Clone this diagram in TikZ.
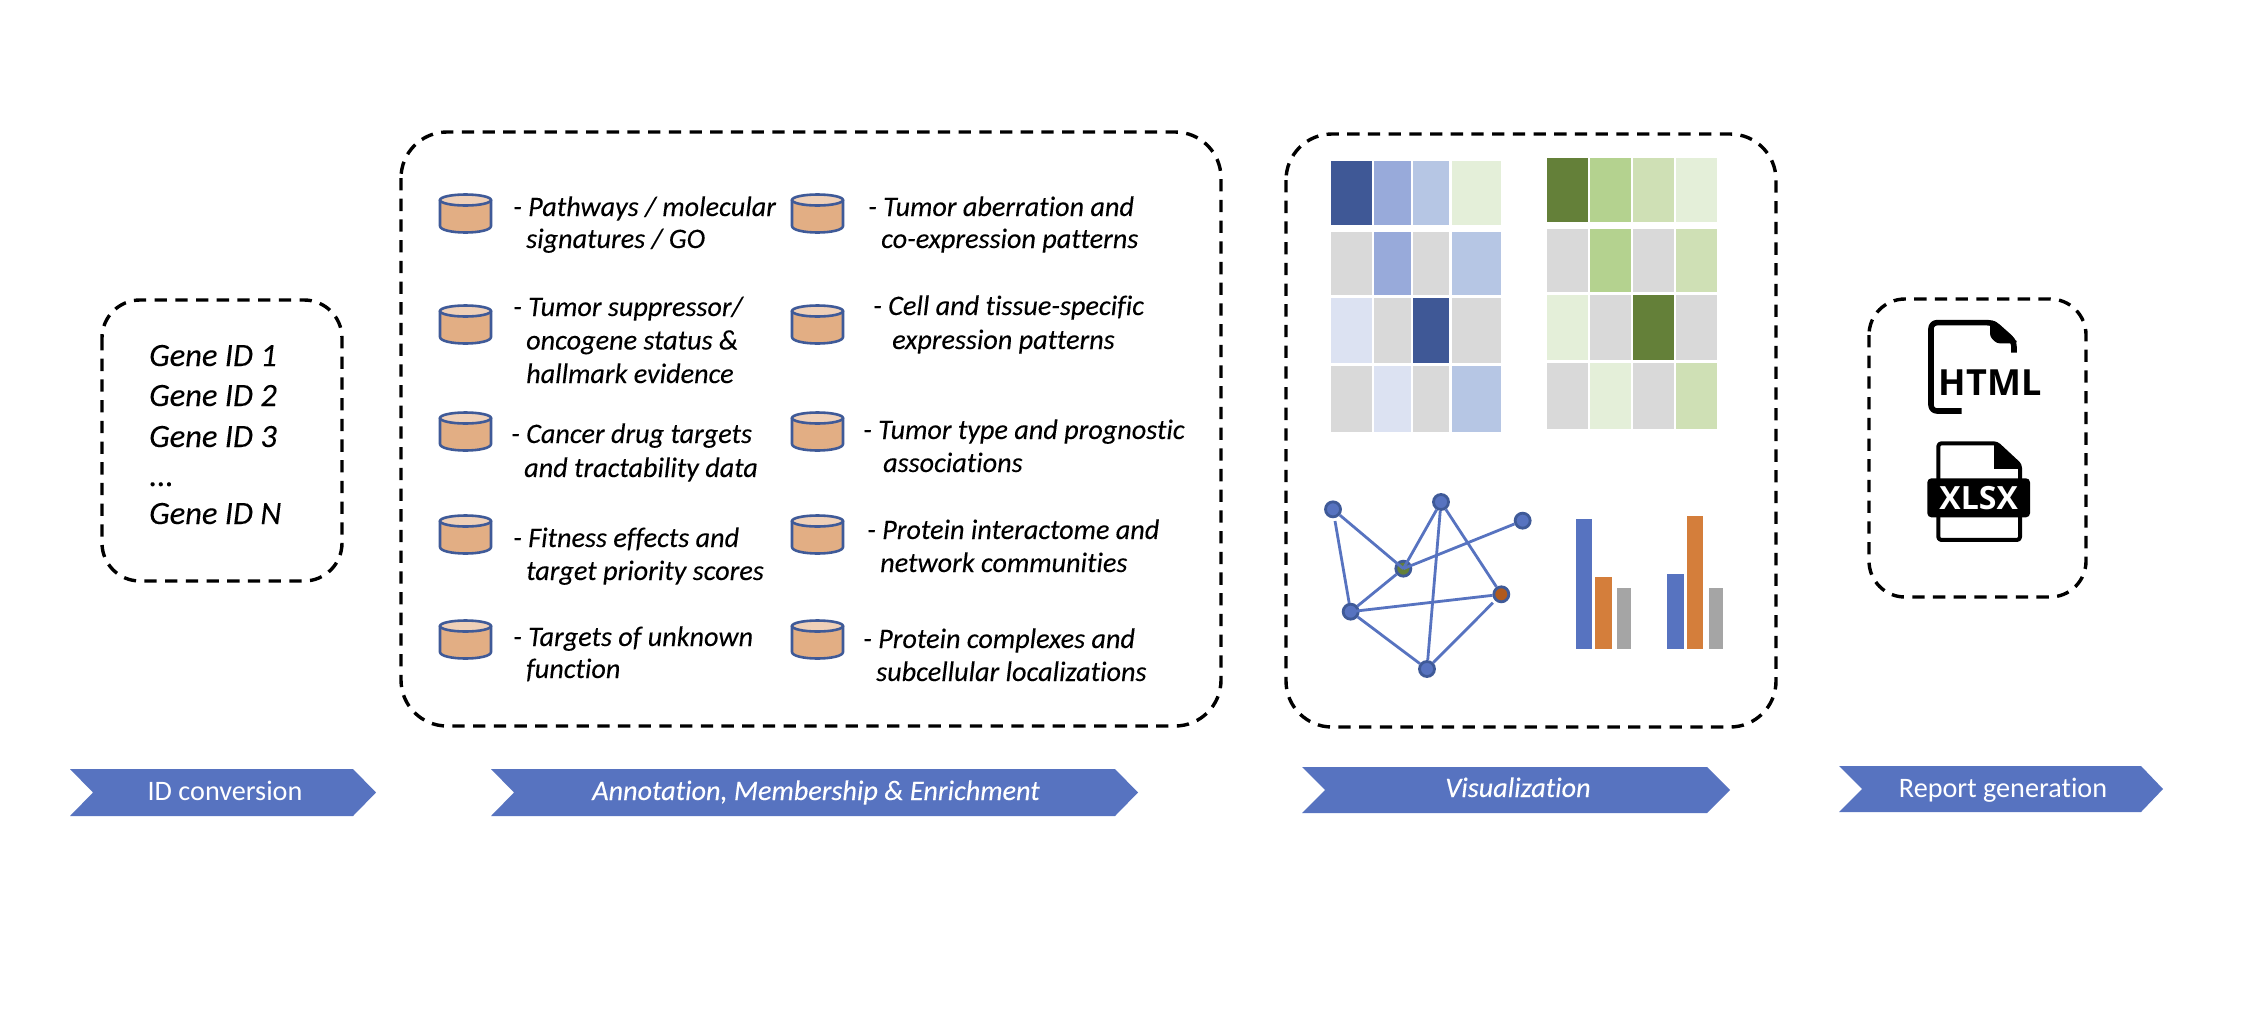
\documentclass[tikz,border=0pt]{standalone}
\usepackage{fontspec}
\setmainfont{Carlito}[Ligatures=NoCommon,ItalicFeatures={FakeBold=0.12}]
\newfontfamily\iconfont{Open Sans}[BoldFont={* Bold}]
\definecolor{chev}{HTML}{5773C0}
\definecolor{can}{HTML}{E2AE84}
\definecolor{cantop}{HTML}{EFD0B8}
\definecolor{canline}{HTML}{3F5A98}
\definecolor{bD}{HTML}{3F5896}
\definecolor{bM}{HTML}{98AADA}
\definecolor{bL}{HTML}{B6C6E4}
\definecolor{bV}{HTML}{DCE2F2}
\definecolor{gY}{HTML}{D9D9D9}
\definecolor{gV}{HTML}{E4EFD9}
\definecolor{gL}{HTML}{CFE0B5}
\definecolor{gM}{HTML}{B4D28F}
\definecolor{gD}{HTML}{648039}
\definecolor{barO}{HTML}{D47E3B}
\definecolor{barG}{HTML}{A5A5A5}
\definecolor{nodeG}{HTML}{648039}
\definecolor{nodeO}{HTML}{B05A1E}
\tikzset{
  dashbox/.style={draw=black,line width=3.4pt,dash pattern=on 12.3pt off 8.4pt,rounded corners=#1},
  entrytext/.style={anchor=base west,inner sep=0pt,font=\fontsize{28.2}{33}\selectfont\itshape},
  genetext/.style={anchor=base west,inner sep=0pt,font=\fontsize{32.5}{33}\selectfont\itshape},
  chevtext/.style={anchor=base,inner sep=0pt,text=white,font=\fontsize{28.2}{33}\selectfont},
  netnode/.style={circle,draw=canline,line width=2.8pt,fill=chev,minimum size=15pt,inner sep=0pt},
  netedge/.style={draw=chev,line width=2.8pt},
  iconline/.style={draw=black,line cap=round,line join=round}
}
\newcommand{\dbcan}[2]{%
  \draw[canline,line width=2.6pt,fill=can,line join=round]
    (#2,#1+6) -- (#2,#1+32) .. controls (#2,#1+36) and (#2+12,#1+38.5) .. (#2+25.5,#1+38.5)
    .. controls (#2+39,#1+38.5) and (#2+51,#1+36) .. (#2+51,#1+32) -- (#2+51,#1+6) -- cycle;
  \draw[canline,line width=2.6pt,fill=cantop] (#2+25.5,#1+6) ellipse [x radius=25.5,y radius=5.5];
}
\newcommand{\chevron}[6]{% x0 notch shoulder tip ytop ybottom
  \fill[chev] (#1,#5) -- (#3,#5) -- (#4,{(#5+#6)/2}) -- (#3,#6) -- (#1,#6) -- (#2,{(#5+#6)/2}) -- cycle;
}
\newcommand{\cell}[5]{\fill[#5] (#1,#3) rectangle (#2,#4);}
\begin{document}
\begin{tikzpicture}[x=1pt,y=-1pt]
\useasboundingbox (0,0) rectangle (2253,1026);
\fill[white] (0,0) rectangle (2253,1026);

% dashed panels
\draw[dashbox=38pt] (102,300) rectangle (342,581);
\draw[dashbox=46pt] (401,132) rectangle (1221,726);
\draw[dashbox=46pt] (1286,134) rectangle (1776,727);
\draw[dashbox=36pt] (1869,299) rectangle (2086,597);

% gene list
\node[genetext] (g1) at (149,366) {Gene ID 1};
\node[genetext] (g2) at (149,406) {Gene ID 2};
\node[genetext] (g3) at (149,447) {Gene ID 3};
\node[genetext] (g4) at (149,486) {...};
\node[genetext] (g5) at (149,524) {Gene ID N};

% cylinders
\foreach \yy in {194,305,412,515,620}{\dbcan{\yy}{440}\dbcan{\yy}{792}}

% left column
\node[entrytext] (a1) at (513,216) {\vtop{\baselineskip=32pt\hbox{- Pathways / molecular}\hbox{\hspace*{13pt}signatures / GO}}};
\node[entrytext] (a2) at (513,316) {\vtop{\baselineskip=33.5pt\hbox{- Tumor suppressor/}\hbox{\hspace*{13pt}oncogene status \&}\hbox{\hspace*{13pt}hallmark evidence}}};
\node[entrytext] (a3) at (511,443) {\vtop{\baselineskip=34pt\hbox{- Cancer drug targets}\hbox{\hspace*{13pt}and tractability data}}};
\node[entrytext] (a4) at (513,547) {\vtop{\baselineskip=33pt\hbox{- Fitness effects and}\hbox{\hspace*{13pt}target priority scores}}};
\node[entrytext] (a5) at (513,646) {\vtop{\baselineskip=32pt\hbox{- Targets of unknown}\hbox{\hspace*{13pt}function}}};
% right column
\node[entrytext] (b1) at (868,216) {\vtop{\baselineskip=32pt\hbox{- Tumor aberration and}\hbox{\hspace*{13pt}co-expression patterns}}};
\node[entrytext] (b2) at (873,315) {\vtop{\baselineskip=34pt\hbox{- Cell and tissue-specific}\hbox{\hspace*{19pt}expression patterns}}};
\node[entrytext] (b3) at (863,439) {\vtop{\baselineskip=33pt\hbox{- Tumor type and prognostic}\hbox{\hspace*{20pt}associations}}};
\node[entrytext] (b4) at (867,539) {\vtop{\baselineskip=33pt\hbox{- Protein interactome and}\hbox{\hspace*{13pt}network communities}}};
\node[entrytext] (b5) at (863,648) {\vtop{\baselineskip=33pt\hbox{- Protein complexes and}\hbox{\hspace*{13pt}subcellular localizations}}};

% heatmaps
\begin{scope}[shift={(1270,120)},x=0.3333pt,y=-0.3333pt]
\cell{182}{305}{123}{314}{bD}\cell{312}{422}{123}{314}{bM}\cell{429}{538}{123}{314}{bL}\cell{545}{693}{123}{314}{gV}
\cell{182}{305}{335}{525}{gY}\cell{312}{422}{335}{525}{bM}\cell{429}{538}{335}{525}{gY}\cell{545}{693}{335}{525}{bL}
\cell{182}{305}{533}{730}{bV}\cell{312}{422}{533}{730}{gY}\cell{429}{538}{533}{730}{bD}\cell{545}{693}{533}{730}{gY}
\cell{182}{305}{737}{935}{gY}\cell{312}{422}{737}{935}{bV}\cell{429}{538}{737}{935}{gY}\cell{545}{693}{737}{935}{bL}
\cell{831}{954}{115}{305}{gD}\cell{960}{1083}{115}{305}{gM}\cell{1090}{1212}{115}{305}{gL}\cell{1219}{1341}{115}{305}{gV}
\cell{831}{954}{327}{516}{gY}\cell{960}{1083}{327}{516}{gM}\cell{1090}{1212}{327}{516}{gY}\cell{1219}{1341}{327}{516}{gL}
\cell{831}{954}{525}{721}{gV}\cell{960}{1083}{525}{721}{gY}\cell{1090}{1212}{525}{721}{gD}\cell{1219}{1341}{525}{721}{gY}
\cell{831}{954}{729}{926}{gY}\cell{960}{1083}{729}{926}{gV}\cell{1090}{1212}{729}{926}{gY}\cell{1219}{1341}{729}{926}{gL}
\end{scope}

% network
\begin{scope}[shift={(1270,460)},x=0.3333pt,y=-0.3333pt]
\node[netnode] (n1) at (189,148) {};
\node[netnode] (n2) at (513,126) {};
\node[netnode] (n3) at (758,182) {};
\node[netnode,fill=nodeG] (n4) at (400,326) {};
\node[netnode,fill=nodeO] (n5) at (694,403) {};
\node[netnode] (n6) at (242,455) {};
\node[netnode] (n7) at (471,627) {};
\end{scope}
\draw[netedge] (n1) -- (n4.center);
\draw[netedge,shorten <=3pt] (n1) -- (n6);
\draw[netedge] (n2) -- (n4.center);
\draw[netedge] (n2) -- (n7);
\draw[netedge] (n2) -- (n5);
\draw[netedge] (n3) -- (n4.center);
\draw[netedge] (n4) -- (n6);
\draw[netedge] (n6.center) -- (n5);
\draw[netedge] (n6) -- (n7);
\draw[netedge,shorten >=3pt] (n7) -- (n5);

% bars
\begin{scope}[shift={(1270,460)},x=0.3333pt,y=-0.3333pt]
\fill[chev] (917,177) rectangle (967,567);
\fill[barO] (975,352) rectangle (1025,567);
\fill[barG] (1042,385) rectangle (1084,567);
\fill[chev] (1192,343) rectangle (1242,567);
\fill[barO] (1251,168) rectangle (1300,567);
\fill[barG] (1317,385) rectangle (1359,567);
\end{scope}

% file icons
\begin{scope}[shift={(1850,280)},x=0.3333pt,y=-0.3333pt]
\draw[iconline,line width=5.6pt,rounded corners=6pt,line cap=butt] (335,393) -- (243,393) -- (243,128) -- (430,128) -- (492,183) -- (492,218);
\fill[black,rounded corners=3pt] (420,124) -- (420,170) -- (440,190) -- (500,190) -- (500,182) -- (432,120) -- cycle;
\node[anchor=base,inner sep=0pt,font=\iconfont\bfseries\fontsize{36}{36}\selectfont] (html) at (420,348) {HTML};
\draw[iconline,line width=4pt,rounded corners=3pt] (265,600) -- (265,490) -- (440,490) -- (510,555) -- (510,600);
\draw[iconline,line width=4pt,rounded corners=3pt] (265,705) -- (265,780) -- (510,780) -- (510,705);
\fill[black] (432,490) -- (432,567) -- (510,567) -- (510,555) -- (440,490) -- cycle;
\fill[black,rounded corners=4pt] (232,595) rectangle (540,712);
\node[anchor=base,inner sep=0pt,text=white,font=\iconfont\bfseries\fontsize{32}{32}\selectfont] (xlsx) at (386,690) {XLSX};
\end{scope}

% chevrons
\chevron{70}{93}{353}{376}{769}{816}
\node[chevtext] (c1) at (225,800) {ID conversion};
\chevron{491}{514}{1115}{1138}{769}{816}
\node[chevtext,font=\fontsize{28.2}{33}\selectfont\itshape] (c2) at (816,800) {Annotation, Membership \& Enrichment};
\chevron{1302}{1325}{1707}{1730}{767}{813}
\node[chevtext,font=\fontsize{28.2}{33}\selectfont\itshape] (c3) at (1518,797) {Visualization};
\chevron{1839}{1862}{2141}{2163}{766}{812}
\node[chevtext] (c4) at (2003,797) {Report generation};
\end{tikzpicture}
\end{document}
